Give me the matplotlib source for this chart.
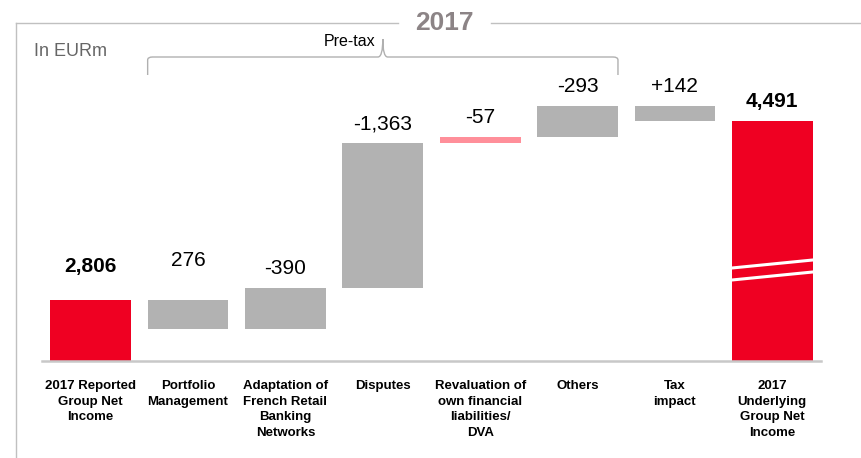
import matplotlib
matplotlib.use("Agg")
import matplotlib.pyplot as plt
import matplotlib.transforms as mtransforms
from matplotlib.lines import Line2D
from matplotlib.path import Path
from matplotlib.patches import PathPatch

plt.rcParams['font.family'] = ['Liberation Sans', 'DejaVu Sans']

# ---- data ----
categories = ["2017 Reported\nGroup Net\nIncome", "Portfolio\nManagement",
              "Adaptation of\nFrench Retail\nBanking\nNetworks", "Disputes",
              "Revaluation of\nown financial\nliabilities/\nDVA", "Others",
              "Tax\nimpact", "2017\nUnderlying\nGroup Net\nIncome"]
reported = 2806
adjustments = [276, -390, -1363, -57, -293, 142]
underlying = 4491
value_labels = ["2,806", "276", "-390", "-1,363", "-57", "-293", "+142", "4,491"]

W, H = 861, 458
fig = plt.figure(figsize=(W / 100, H / 100), dpi=100)

def fx(px):
    return px / W

def fy(py):
    return 1 - py / H

ax_left, ax_right, ax_top, ax_bot = 42, 821, 23, 361
ax = fig.add_axes([fx(ax_left), fy(ax_bot), fx(ax_right - ax_left), fy(ax_top) - fy(ax_bot)])
y0 = 2227
ymax = y0 + (ax_bot - ax_top) / 0.106
ax.set_ylim(y0, ymax)
ax.set_xlim(-0.5, len(categories) - 0.5)

red = '#EF0022'
grey = '#B2B2B2'
pink = '#FF8F9A'
width = 0.83

# waterfall
bottoms, heights, colors = [], [], []
bottoms.append(y0); heights.append(reported - y0); colors.append(red)
run = reported
for i, a in enumerate(adjustments):
    new = run - a
    lo, hi = min(run, new), max(run, new)
    bottoms.append(lo); heights.append(hi - lo)
    colors.append(pink if i == 3 else grey)
    run = new
bottoms.append(y0); heights.append(underlying - y0); colors.append(red)

xs = list(range(len(categories)))
ax.bar(xs, heights, bottom=bottoms, width=width, color=colors, linewidth=0, zorder=2)

# value labels
for i, (b, h, lab) in enumerate(zip(bottoms, heights, value_labels)):
    top = b + h
    if i == 1:
        top = reported
    off = {0: 24, 1: 30}.get(i, 10)
    bold = i in (0, len(xs) - 1)
    ax.annotate(lab, (i, top), xytext=(0, off), textcoords='offset pixels',
                ha='center', va='bottom', fontsize=15,
                fontweight='bold' if bold else 'normal', color='black')

# break marks on last bar
blend = mtransforms.blended_transform_factory(ax.transData, ax.transAxes)
def axy(py):
    return (ax_bot - py) / (ax_bot - ax_top)
xl, xr = xs[-1] - width / 2, xs[-1] + width / 2
for yl, yr in [(268, 260), (280, 272)]:
    ax.plot([xl, xr], [axy(yl), axy(yr)], transform=blend, color='white', lw=2.2, zorder=3)

# axes styling
for s in ['top', 'right', 'left']:
    ax.spines[s].set_visible(False)
ax.spines['bottom'].set_color('#C8C8C8')
ax.spines['bottom'].set_linewidth(1.8)
ax.set_yticks([])
ax.set_xticks(xs)
ax.set_xticklabels(categories, fontsize=9.5, fontweight='bold', linespacing=1.38, va='top')
ax.tick_params(axis='x', length=0, pad=14)

# brace (Pre-tax)
bl = 1 - width / 2
br = 5 + width / 2
bmid = (bl + br) / 2
yb, yl_, yt = axy(75), axy(57), axy(39)
verts = [(bl, yb), (bl, axy(60)), (bl, yl_), (bl + 0.05, yl_),
         (bmid - 0.05, yl_), (bmid, yl_), (bmid, yt),
         (bmid, yl_), (bmid + 0.05, yl_),
         (br - 0.05, yl_), (br, yl_), (br, axy(60)), (br, yb)]
codes = [Path.MOVETO, Path.LINETO, Path.CURVE3, Path.CURVE3,
         Path.LINETO, Path.CURVE3, Path.CURVE3,
         Path.CURVE3, Path.CURVE3,
         Path.LINETO, Path.CURVE3, Path.CURVE3, Path.LINETO]
ax.add_patch(PathPatch(Path(verts, codes), transform=blend, fill=False,
                       edgecolor='#B0B0B0', lw=1.0, clip_on=False))
ax.text(bmid - 0.08, axy(41), "Pre-tax", transform=blend, ha='right', va='center',
        fontsize=11.5, color='black')

# frame and header
fg = '#C0C0C0'
fig.add_artist(Line2D([fx(16), fx(16)], [fy(23), fy(458)], color=fg, lw=1.0))
fig.add_artist(Line2D([fx(16), fx(398)], [fy(23), fy(23)], color=fg, lw=1.0))
fig.add_artist(Line2D([fx(491), fx(861)], [fy(23), fy(23)], color=fg, lw=1.0))
fig.text(fx(444), fy(23), "2017", ha='center', va='center', fontsize=19,
         fontweight='bold', color='#8C8486')
fig.text(fx(34), fy(51), "In EURm", ha='left', va='center', fontsize=13, color='#666666')

fig.savefig("out.png", dpi=100)
